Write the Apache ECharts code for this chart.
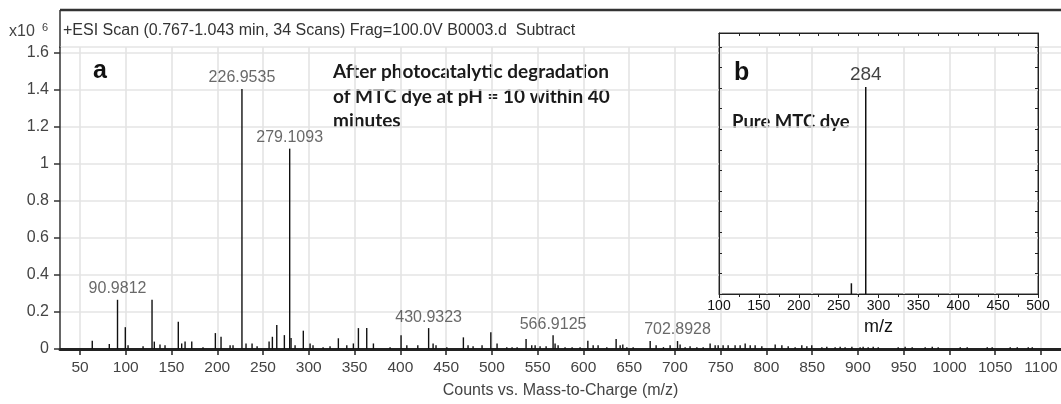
<!DOCTYPE html>
<html>
<head>
<meta charset="utf-8">
<script src="https://cdn.jsdelivr.net/npm/echarts@6/dist/echarts.min.js"></script>
<style>
html,body{margin:0;padding:0;background:#fff;}
#c{width:1061px;height:404px;}
</style>
</head>
<body>
<div id="c"></div>
<script>
// ---- main spectrum (a): m/z and intensity (x10^6 counts) ----
const mainMz = [63.4, 82.0, 90.9812, 99.5, 102.5, 118.9, 128.7, 131.2, 137.4, 142.9, 157.4, 161.1, 164.8, 172.1, 184.4, 197.9, 204.1, 214.0, 217.2, 226.9535, 231.4, 238.0, 243.5,
  256.6, 260.2, 265.0, 273.3, 279.1093, 280.6, 285.0, 294.0, 301.4, 304.6, 315.6, 323.2, 332.3, 341.5, 348.7, 354.2, 363.3, 370.6, 388.8, 400.8, 407.1, 419.1, 430.9323, 435.8, 439.0,
  450.8, 468.9, 474.0, 479.5, 489.3, 498.9, 505.7, 516.3, 522.1, 527.6, 537.4, 543.6, 547.3, 552.7, 559.3, 566.9125, 569.1, 572.4, 580.0, 587.7, 596.4, 604.9, 610.7, 616.1, 625.6, 635.8, 640.2, 643.1, 647.5,
  654.4, 673.0, 679.5, 687.5, 694.8, 702.8928, 705.7, 711.2, 716.6, 724.0, 730.9, 738.5, 744.0, 747.3, 752.7, 758.2, 765.8, 771.3, 776.8, 782.3, 787.7, 795.0, 809.6, 816.9, 823.8, 831.4, 838.7, 844.2, 849.6, 860.6,
  866.0, 875.1, 880.6, 886.0, 893.4, 902.4, 905.7, 911.2, 916.7, 922.2, 944.0, 951.6, 959.3, 973.5, 981.2, 987.7, 1011.8, 1019.4, 1041.3, 1046.7, 1066.4, 1074.1, 1086.1, 1090.5];
const mainInt = [0.045, 0.027, 0.266, 0.118, 0.02, 0.015, 0.266, 0.04, 0.025, 0.02, 0.147, 0.03, 0.04, 0.04, 0.01, 0.086, 0.066, 0.02, 0.02, 1.406, 0.03, 0.03, 0.015,
  0.04, 0.066, 0.13, 0.075, 1.083, 0.06, 0.02, 0.099, 0.03, 0.02, 0.01, 0.015, 0.058, 0.02, 0.03, 0.113, 0.113, 0.03, 0.01, 0.075, 0.02, 0.02, 0.113, 0.03, 0.02,
  0.01, 0.063, 0.02, 0.015, 0.02, 0.09, 0.03, 0.01, 0.01, 0.01, 0.054, 0.02, 0.02, 0.015, 0.015, 0.075, 0.03, 0.02, 0.01, 0.01, 0.01, 0.045, 0.02, 0.02, 0.01, 0.054, 0.02, 0.025, 0.01,
  0.01, 0.043, 0.02, 0.01, 0.02, 0.043, 0.025, 0.01, 0.015, 0.01, 0.01, 0.03, 0.02, 0.02, 0.02, 0.02, 0.02, 0.02, 0.03, 0.02, 0.02, 0.015, 0.025, 0.02, 0.015, 0.01, 0.02, 0.015, 0.02, 0.01,
  0.012, 0.01, 0.012, 0.01, 0.012, 0.01, 0.012, 0.01, 0.012, 0.01, 0.01, 0.012, 0.01, 0.01, 0.012, 0.01, 0.01, 0.01, 0.01, 0.01, 0.01, 0.01, 0.01, 0.01];
// labelled peaks of (a)
const labelMz = [90.9812, 226.9535, 279.1093, 430.9323, 566.9125, 702.8928];
const labelInt = [0.266, 1.406, 1.083, 0.113, 0.075, 0.043];
// main axis ticks
const xTicks = [50, 100, 150, 200, 250, 300, 350, 400, 450, 500, 550, 600, 650, 700, 750, 800, 850, 900, 950, 1000, 1050, 1100];
const yTicks = [0, 0.2, 0.4, 0.6, 0.8, 1, 1.2, 1.4, 1.6];

// ---- inset spectrum (b): pure MTC dye (relative units) ----
const insetMz = [266, 284];
const insetInt = [0.52, 10.05];
const insetLabelMz = [284];
const insetLabelInt = [10.05];

const FONT = '"Liberation Sans", Arial, sans-serif';
const BOLD2 = 'Lato, "Open Sans", sans-serif';
const chart = echarts.init(document.getElementById('c'), null, {renderer: 'canvas'});

function stick(color, width) {
  return function (params, api) {
    const x = api.value(0), y = api.value(1);
    const p0 = api.coord([x, 0]);
    const p1 = api.coord([x, y]);
    return {type: 'line', shape: {x1: p0[0], y1: p0[1], x2: p1[0], y2: p1[1]},
      style: {stroke: color, lineWidth: width}};
  };
}

const option = {
  animation: false,
  backgroundColor: '#ffffff',
  grid: [
    {left: 60, right: 0, top: 47, bottom: 54, containLabel: false},
    {left: 719, top: 33, width: 319, height: 261, show: true, borderColor: '#333', borderWidth: 1, backgroundColor: 'transparent'}
  ],
  xAxis: [
    {
      type: 'value', gridIndex: 0, min: 28.14, max: 1121.9,
      name: 'Counts vs. Mass-to-Charge (m/z)', nameLocation: 'middle', nameGap: 34,
      nameTextStyle: {fontFamily: FONT, fontSize: 16, color: '#444'},
      axisLine: {show: true, onZero: false, lineStyle: {color: '#222', width: 3}},
      axisTick: {show: true, length: 6, customValues: xTicks, lineStyle: {color: '#222', width: 1.5}},
      axisLabel: {customValues: xTicks, fontFamily: FONT, fontSize: 15.5, color: '#444', margin: 11,
        formatter: v => String(v)},
      splitLine: {show: true, lineStyle: {color: '#e4e4e4', width: 1.6}}
    },
    {
      type: 'value', gridIndex: 1, min: 100, max: 500, interval: 50, position: 'bottom',
      name: 'm/z', nameLocation: 'middle', nameGap: 24,
      nameTextStyle: {fontFamily: FONT, fontSize: 18, color: '#111'},
      axisLine: {show: true, onZero: false, lineStyle: {color: '#222', width: 1}},
      axisTick: {show: true, length: 4, lineStyle: {color: '#222'}},
      minorTick: {show: true, splitNumber: 2, length: 3, lineStyle: {color: '#222'}},
      axisLabel: {fontFamily: FONT, fontSize: 14, color: '#111', margin: 5, formatter: v => String(v)},
      splitLine: {show: false}
    },
    {
      type: 'value', gridIndex: 1, min: 100, max: 500, interval: 25, position: 'top',
      axisLine: {show: true, onZero: false, lineStyle: {color: '#222', width: 1}},
      axisTick: {show: true, inside: true, length: 3, lineStyle: {color: '#222'}},
      axisLabel: {show: false},
      splitLine: {show: false}
    }
  ],
  yAxis: [
    {
      type: 'value', gridIndex: 0, min: 0, max: 1.6325, interval: 0.2,
      axisLine: {show: true, lineStyle: {color: '#333', width: 1.5}},
      axisTick: {show: true, length: 6, lineStyle: {color: '#333', width: 1.5}},
      axisLabel: {fontFamily: FONT, fontSize: 16, color: '#444', margin: 11,
        formatter: v => (yTicks.indexOf(Math.round(v * 10) / 10) >= 0 ? String(Math.round(v * 10) / 10) : '')},
      splitLine: {show: true, lineStyle: {color: '#e4e4e4', width: 1.6}}
    },
    {
      type: 'value', gridIndex: 1, min: 0, max: 12.67, interval: 1, position: 'left',
      axisLine: {show: true, onZero: false, lineStyle: {color: '#222', width: 1}},
      axisTick: {show: true, inside: true, length: 3, lineStyle: {color: '#222'}},
      axisLabel: {show: false}, splitLine: {show: false}
    },
    {
      type: 'value', gridIndex: 1, min: 0, max: 12.67, interval: 1, position: 'right',
      axisLine: {show: true, onZero: false, lineStyle: {color: '#222', width: 1}},
      axisTick: {show: true, inside: true, length: 3, lineStyle: {color: '#222'}},
      axisLabel: {show: false}, splitLine: {show: false}
    }
  ],
  series: [
    {
      type: 'custom', xAxisIndex: 0, yAxisIndex: 0,
      renderItem: stick('#111', 1.4),
      encode: {x: 0, y: 1},
      data: mainMz.map((m, i) => [m, mainInt[i]]),
      silent: true
    },
    {
      type: 'scatter', xAxisIndex: 0, yAxisIndex: 0, symbolSize: 0,
      data: labelMz.map((m, i) => [m, labelInt[i]]),
      label: {show: true, position: 'top', distance: 3, fontFamily: FONT, fontSize: 16, color: '#444',
        formatter: p => p.value[0].toFixed(4)},
      silent: true
    },
    {
      type: 'custom', xAxisIndex: 1, yAxisIndex: 1,
      renderItem: stick('#111', 1.5),
      encode: {x: 0, y: 1},
      data: insetMz.map((m, i) => [m, insetInt[i]]),
      silent: true
    },
    {
      type: 'scatter', xAxisIndex: 1, yAxisIndex: 1, symbolSize: 0,
      data: insetLabelMz.map((m, i) => [m, insetLabelInt[i]]),
      label: {show: true, position: 'top', distance: 3, fontFamily: FONT, fontSize: 19, color: '#111',
        formatter: p => String(p.value[0])},
      silent: true
    }
  ],
  graphic: [
    {type: 'line', shape: {x1: 60, y1: 10, x2: 1061, y2: 10}, style: {stroke: '#333', lineWidth: 2.5}, silent: true},
    {type: 'line', shape: {x1: 60, y1: 10, x2: 60, y2: 48}, style: {stroke: '#333', lineWidth: 1.5}, silent: true},
    {type: 'text', x: 63, y: 31, style: {text: '+ESI Scan (0.767-1.043 min, 34 Scans) Frag=100.0V B0003.d  Subtract',
      font: '16px ' + FONT, fill: '#333', verticalAlign: 'middle'}},
    {type: 'text', x: 9, y: 32, style: {text: 'x10', font: '16px ' + FONT, fill: '#444', verticalAlign: 'middle'}},
    {type: 'text', x: 42, y: 28, style: {text: '6', font: '11px ' + FONT, fill: '#444', verticalAlign: 'middle'}},
    {type: 'text', x: 93, y: 71, style: {text: 'a', font: 'bold 25px ' + FONT, fill: '#111', verticalAlign: 'middle'}},
    {type: 'text', x: 734, y: 73, style: {text: 'b', font: 'bold 25px ' + FONT, fill: '#111', verticalAlign: 'middle'}},
    {type: 'text', x: 333, y: 60, style: {text: 'After photocatalytic degradation\nof MTC dye at pH = 10 within 40\nminutes',
      font: 'bold 19px ' + BOLD2, lineHeight: 24.5, fill: '#1a1a1a'}},
    {type: 'text', x: 732, y: 122, style: {text: 'Pure MTC dye', font: 'bold 18.5px ' + BOLD2,
      fill: '#1a1a1a', verticalAlign: 'middle'}}
  ]
};
chart.setOption(option);
</script>
</body>
</html>
